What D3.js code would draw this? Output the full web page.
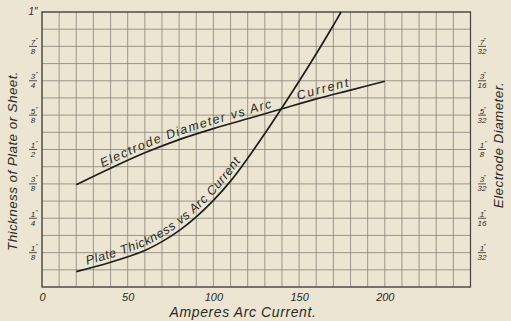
<!DOCTYPE html>
<html><head><meta charset="utf-8">
<script src="https://cdn.jsdelivr.net/npm/d3@7"></script>
<style>
html,body{margin:0;padding:0;background:#ebe5d1;}
svg{display:block;}
text{font-family:"Liberation Sans","DejaVu Sans",sans-serif;font-style:italic;fill:#2a2a26;}
</style></head>
<body>
<script>
// ---- data ----
const electrodeAmps = [20, 40, 60, 80, 100, 120, 140, 160, 180, 200];
const electrodeDia  = [0.093, 0.108, 0.122, 0.134, 0.144, 0.153, 0.162, 0.171, 0.179, 0.187]; // inches (right axis)
const plateAmps  = [20, 40, 60, 70, 80, 90, 100, 110, 120, 130, 140, 150, 160, 170, 174.5];
const plateThick = [0.056, 0.09, 0.133, 0.165, 0.205, 0.255, 0.315, 0.385, 0.468, 0.558, 0.652, 0.748, 0.848, 0.952, 1.0]; // inches (left axis)
const xTicks = [0, 50, 100, 150, 200];
const leftTickLabels  = ["1/8", "1/4", "3/8", "1/2", "5/8", "3/4", "7/8"];
const rightTickLabels = ["1/32", "1/16", "3/32", "1/8", "5/32", "3/16", "7/32"];
const xTitle = "Amperes Arc Current.";
const leftTitle = "Thickness of Plate or Sheet.";
const rightTitle = "Electrode Diameter.";
const electrodeLabel1 = "Electrode Diameter vs Arc";
const electrodeLabel2 = "Current";
const plateLabel = "Plate Thickness vs Arc Current";

// ---- layout ----
const W = 511, H = 321;
const L = 42, R = 470.5, T = 12, B = 287;
const svg = d3.select("body").append("svg").attr("width", W).attr("height", H);
svg.append("rect").attr("width", W).attr("height", H).attr("fill", "#ebe5d1");

const x = d3.scaleLinear().domain([0, 250]).range([L, R]);
const yL = d3.scaleLinear().domain([0, 1]).range([B, T]);
const yR = d3.scaleLinear().domain([0, 0.25]).range([B, T]);

// grid
const grid = svg.append("g").attr("stroke", "#77736a").attr("stroke-width", 0.8).attr("opacity", 0.85);
grid.selectAll(".vx").data(d3.range(0, 251, 10)).enter().append("line")
  .attr("x1", d => x(d)).attr("x2", d => x(d)).attr("y1", T - 1).attr("y2", B);
grid.selectAll(".hy").data(d3.range(0, 1.0001, 1 / 16)).enter().append("line")
  .attr("x1", L).attr("x2", R).attr("y1", d => yL(d)).attr("y2", d => yL(d));
svg.append("rect").attr("x", L).attr("y", T).attr("width", R - L).attr("height", B - T)
  .attr("fill", "none").attr("stroke", "#44423a").attr("stroke-width", 1.2);

// x axis
const xa = svg.append("g").attr("transform", `translate(0,${B})`)
  .call(d3.axisBottom(x).tickValues(xTicks).tickSize(0).tickPadding(6).tickFormat(d3.format("d")));
xa.select(".domain").remove();
xa.selectAll("text").attr("font-size", 11).attr("font-family", "Liberation Sans").attr("font-style", "italic").attr("fill", "#2a2a26");

svg.append("text").attr("x", 243).attr("y", 317).attr("text-anchor", "middle")
  .attr("font-size", 14).attr("letter-spacing", 0.6).text(xTitle);

// fraction labels
function frac(cx, cy, label) {
  const [n, d] = label.split("/");
  const g = svg.append("g").attr("transform", `translate(${cx},${cy})`);
  g.append("text").attr("x", 0).attr("y", -1.5).attr("text-anchor", "middle").attr("font-size", 8).text(n);
  g.append("text").attr("x", d.length > 1 ? 1.5 : 2.5).attr("y", -4.5).attr("font-size", 6).text("\u2033");
  g.append("line").attr("x1", -4).attr("x2", 4).attr("y1", 0).attr("y2", 0).attr("stroke", "#2a2a26").attr("stroke-width", 0.8);
  g.append("text").attr("x", 0).attr("y", 7.5).attr("text-anchor", "middle").attr("font-size", 8).text(d);
}
leftTickLabels.forEach(s => { const [n, d] = s.split("/").map(Number); frac(33, yL(n / d), s); });
rightTickLabels.forEach(s => { const [n, d] = s.split("/").map(Number); frac(482, yR(n / d), s); });
svg.append("text").attr("x", 33).attr("y", yL(1) + 3).attr("text-anchor", "middle").attr("font-size", 10).text("1\u2033");

svg.append("text").attr("transform", `translate(17,161) rotate(-90)`).attr("text-anchor", "middle")
  .attr("font-size", 13.5).attr("letter-spacing", 0.4).text(leftTitle);
svg.append("text").attr("transform", `translate(503,145) rotate(-90)`).attr("text-anchor", "middle")
  .attr("font-size", 13.5).attr("letter-spacing", 0.4).text(rightTitle);

// curves
const eData = electrodeAmps.map((a, i) => [a, electrodeDia[i]]);
const pData = plateAmps.map((a, i) => [a, plateThick[i]]);
const eLine = d3.line().x(d => x(d[0])).y(d => yR(d[1])).curve(d3.curveCatmullRom.alpha(0.5));
const pLine = d3.line().x(d => x(d[0])).y(d => yL(d[1])).curve(d3.curveCatmullRom.alpha(0.5));
const ePath = svg.append("path").attr("id", "ecurve").attr("d", eLine(eData))
  .attr("fill", "none").attr("stroke", "#1e1e1a").attr("stroke-width", 1.7);
const pPath = svg.append("path").attr("id", "pcurve").attr("d", pLine(pData))
  .attr("fill", "none").attr("stroke", "#1e1e1a").attr("stroke-width", 1.7);

function lenAtX(pathNode, px) {
  let lo = 0, hi = pathNode.getTotalLength();
  for (let i = 0; i < 40; i++) {
    const mid = (lo + hi) / 2;
    if (pathNode.getPointAtLength(mid).x < px) lo = mid; else hi = mid;
  }
  return lo;
}
function pathLabel(id, node, txt, x0, x1, dy) {
  const s = lenAtX(node, x0), e = lenAtX(node, x1);
  svg.append("text").attr("font-size", 12.5).attr("dy", dy)
    .append("textPath").attr("href", "#" + id).attr("startOffset", s)
    .attr("textLength", e - s).attr("lengthAdjust", "spacing").text(txt);
}
pathLabel("ecurve", ePath.node(), electrodeLabel1, 104, 273, -4);
pathLabel("ecurve", ePath.node(), electrodeLabel2, 299, 350, -4);
pathLabel("pcurve", pPath.node(), plateLabel, 88, 244, -4);
</script>
</body></html>
